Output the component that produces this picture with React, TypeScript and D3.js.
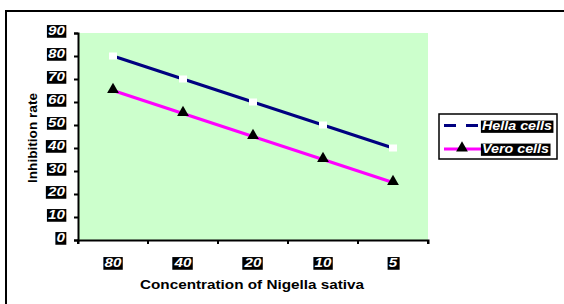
import * as d3 from "d3";
import { useEffect, useRef } from "react";

const categories = ["80", "40", "20", "10", "5"];
const hella = [80, 70, 60, 50, 40];
const vero = [65, 55, 45, 35, 25];
const yTicks = [0, 10, 20, 30, 40, 50, 60, 70, 80, 90];
const seriesNames = ["Hella cells", "Vero cells"];

const App = () => {
  const svgRef = useRef<SVGSVGElement>(null);
  const width = 564;
  const height = 304;

  useEffect(() => {
    const svg = d3.select(svgRef.current);
    svg.selectAll("*").remove();
    const font = "Arial, 'Liberation Sans', sans-serif";

    const x = d3.scaleBand().domain(categories).range([78, 428]);
    const y = d3.scaleLinear().domain([0, 90]).range([240, 33]);

    // outer frame (runs off the right and bottom)
    svg.append("rect").attr("x", 6).attr("y", 11).attr("width", 570).attr("height", 300)
      .attr("fill", "white").attr("stroke", "black").attr("stroke-width", 2);

    // plot area
    svg.append("rect").attr("x", 78).attr("y", 33).attr("width", 350).attr("height", 207)
      .attr("fill", "#ccffcc");

    // white bold italic label on a black box, stretched a bit like the original
    const boxedText = (g: any, tx: number, ty: number, txt: string, anchor: string, sx = 1.17) => {
      const wrap = g.append("g").attr("transform", `translate(${tx},${ty}) scale(${sx},1)`);
      const t = wrap.append("text").attr("x", 0).attr("y", 0).attr("text-anchor", anchor)
        .attr("font-family", font).attr("font-size", 13).attr("font-weight", "bold")
        .attr("font-style", "italic").attr("fill", "white").text(txt);
      const b = (t.node() as SVGTextElement).getBBox();
      wrap.insert("rect", () => t.node()).attr("x", b.x - 1).attr("y", b.y + 2)
        .attr("width", b.width + 2).attr("height", b.height - 2).attr("fill", "black");
    };

    const labels = svg.append("g");
    yTicks.forEach((v) => boxedText(labels, 65, y(v) + 2, String(v), "end"));
    categories.forEach((c) => boxedText(labels, x(c)! + x.bandwidth() / 2, 267, c, "middle"));

    // axes
    const yAxis = d3.axisLeft(y).tickValues(yTicks).tickSize(4).tickFormat(() => "");
    const gy = svg.append("g").attr("transform", "translate(78,0)").call(yAxis);
    const xAxis = d3.axisBottom(x).tickSize(4).tickFormat(() => "");
    const gx = svg.append("g").attr("transform", "translate(0,240)").call(xAxis);
    gx.selectAll(".tick").remove();
    const bounds = [...categories.map((c) => x(c)!), 428];
    gx.selectAll(".b").data(bounds).join("line").attr("x1", (d) => d).attr("x2", (d) => d)
      .attr("y1", 0).attr("y2", 4).attr("stroke", "black").attr("stroke-width", 2);
    [gy, gx].forEach((g) => {
      g.select(".domain").attr("stroke-width", 2).attr("stroke", "black");
      g.selectAll(".tick line").attr("stroke-width", 2);
    });

    const cx = (i: number) => x(categories[i])! + x.bandwidth() / 2;
    const line = d3.line<number>().x((d, i) => cx(i)).y((d) => y(d));

    svg.append("path").attr("d", line(hella)).attr("fill", "none")
      .attr("stroke", "#000080").attr("stroke-width", 3);
    svg.selectAll(".hm").data(hella).join("rect").attr("x", (d, i) => cx(i) - 4)
      .attr("y", (d) => y(d) - 3.5).attr("width", 8).attr("height", 7).attr("fill", "white");

    svg.append("path").attr("d", line(vero)).attr("fill", "none")
      .attr("stroke", "#ff00ff").attr("stroke-width", 3);
    const tri = d3.symbol().type(d3.symbolTriangle).size(60);
    svg.selectAll(".vm").data(vero).join("path").attr("d", tri)
      .attr("transform", (d, i) => `translate(${cx(i)},${y(d) - 1})`).attr("fill", "black");

    // axis titles
    svg.append("text").attr("transform", "translate(37,138) rotate(-90)")
      .attr("text-anchor", "middle").attr("font-family", font).attr("font-size", 12)
      .attr("font-weight", "bold").attr("textLength", 90).attr("lengthAdjust", "spacingAndGlyphs")
      .text("Inhibition rate");
    svg.append("text").attr("x", 252).attr("y", 289).attr("text-anchor", "middle")
      .attr("font-family", font).attr("font-size", 12).attr("font-weight", "bold")
      .attr("textLength", 224).attr("lengthAdjust", "spacingAndGlyphs")
      .text("Concentration of Nigella sativa");

    // legend
    const lg = svg.append("g");
    lg.append("rect").attr("x", 439).attr("y", 114).attr("width", 118).attr("height", 45)
      .attr("fill", "white").attr("stroke", "black").attr("stroke-width", 1.5);
    lg.append("line").attr("x1", 444).attr("x2", 482).attr("y1", 125.5).attr("y2", 125.5)
      .attr("stroke", "#000080").attr("stroke-width", 3).attr("stroke-dasharray", "12,10");
    lg.append("line").attr("x1", 444).attr("x2", 482).attr("y1", 149).attr("y2", 149)
      .attr("stroke", "#ff00ff").attr("stroke-width", 3);
    lg.append("path").attr("d", tri).attr("transform", "translate(462,148)").attr("fill", "black");
    boxedText(lg, 482, 130, seriesNames[0], "start", 1.1);
    boxedText(lg, 482, 153, seriesNames[1], "start", 1.1);
  }, []);

  return (
    <svg ref={svgRef} width={width} height={height}
      style={{ position: "absolute", left: 0, top: 0, display: "block" }}></svg>
  );
};

export default App;
